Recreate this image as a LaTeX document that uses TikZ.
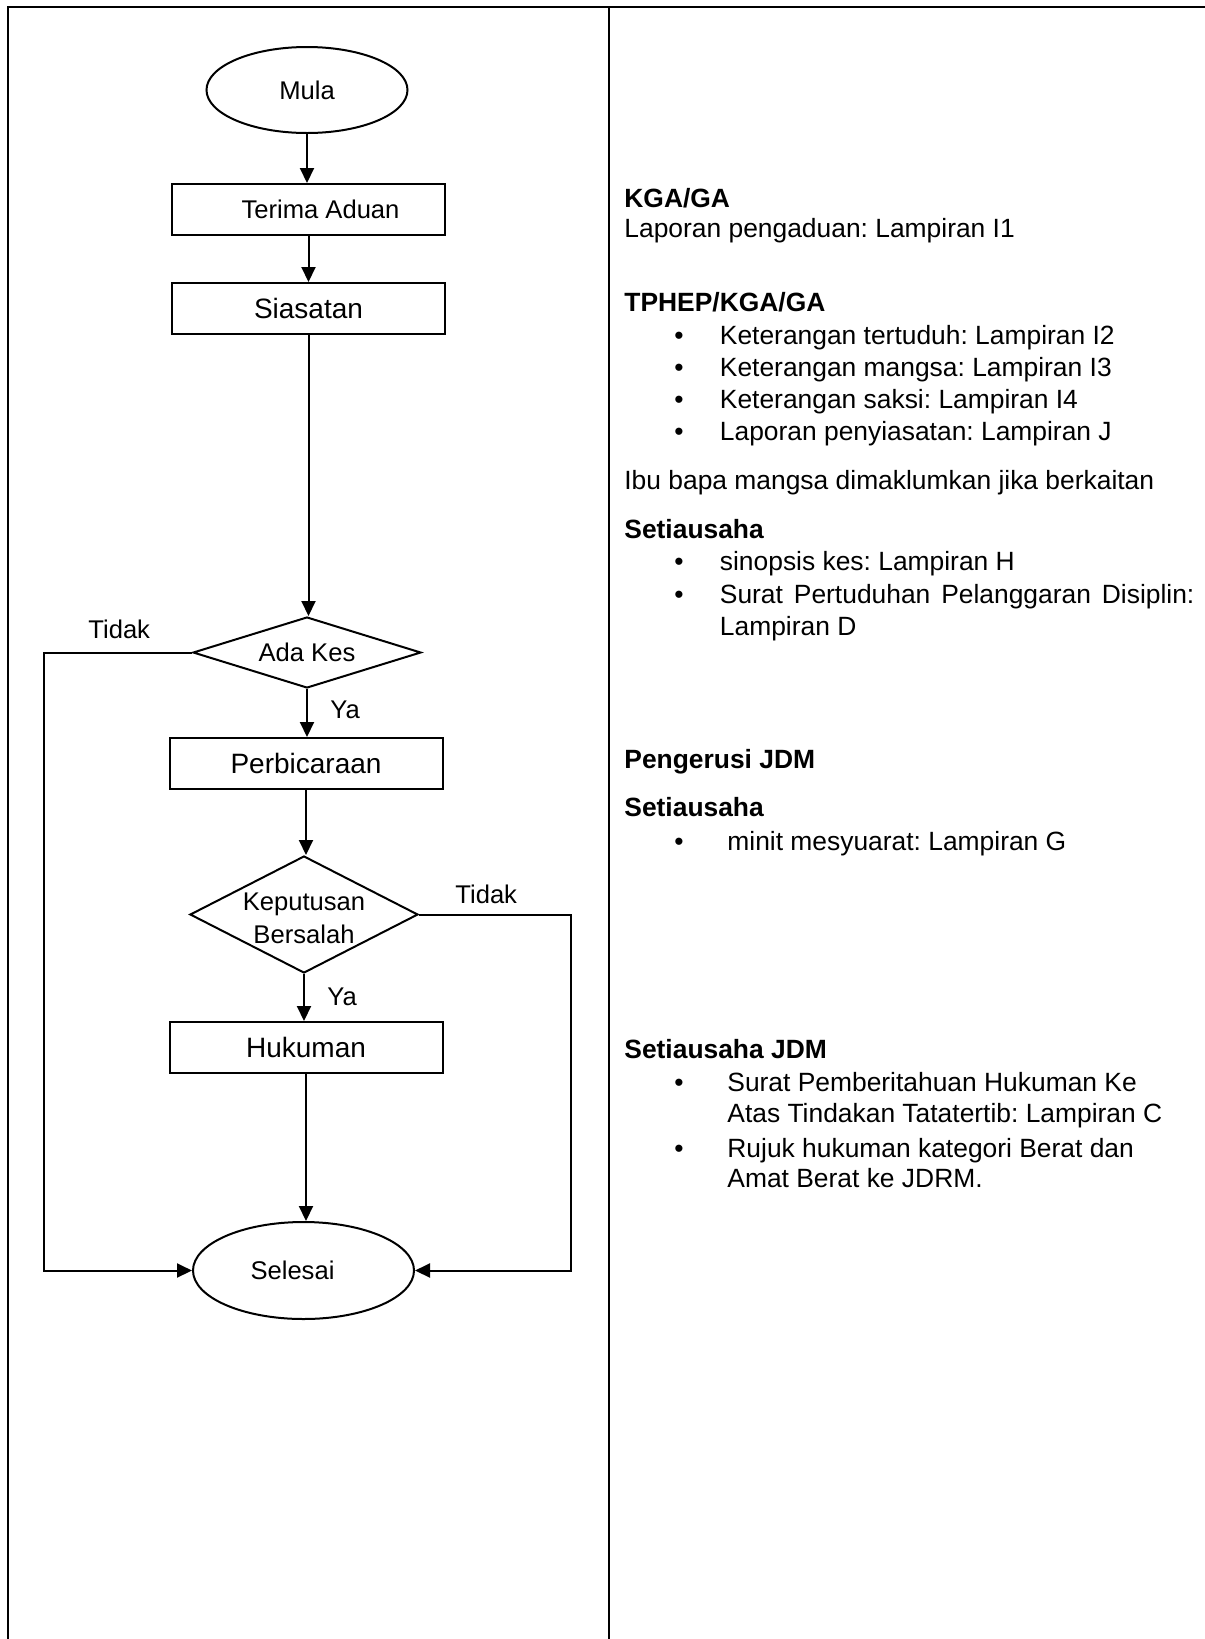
\documentclass[tikz,border=0pt]{standalone}
\usepackage{fontspec}
\setmainfont{Liberation Sans}
\usetikzlibrary{shapes.geometric,arrows.meta}
\newcommand\myrfont{\fontsize{13.2}{15.5}\selectfont}
\newcommand\mysmallf{\fontsize{12.8}{16.5}\selectfont}
\newcommand\mylargef{\fontsize{14}{17}\selectfont}
\frenchspacing
\begin{document}
\begin{tikzpicture}[x=0.5pt,y=-0.5pt,
  border/.style={line width=1.25pt},
  flowline/.style={line width=1pt},
  arr/.style={flowline,-{Triangle[length=7.5pt,width=7pt]}},
  procbox/.style={draw,line width=1pt,rectangle,minimum width=136.5pt,minimum height=25.5pt,inner sep=0pt},
  term/.style={draw,line width=1pt,ellipse,inner sep=0pt,font=\mysmallf},
  decide/.style={draw,line width=1pt,diamond,inner sep=0pt,minimum width=114pt},
  lbl/.style={inner sep=0pt,anchor=base west,font=\mysmallf},
  rt/.style={inner sep=0pt,anchor=base west,font=\myrfont},
  rth/.style={inner sep=0pt,anchor=base west,font=\myrfont\bfseries},
  bul/.style={inner sep=0pt,anchor=base,font=\myrfont}]
\useasboundingbox (0,0) rectangle (1205,1639);
% frame
\draw[border] (8,1639) -- (8,7) -- (1205,7);
\draw[border] (609,7) -- (609,1639);
% flowchart nodes
\node[term,minimum width=100.5pt,minimum height=43pt] (mula) at (307,90) {Mula};
\node[procbox,font=\mysmallf] (terima) at (308.5,209.5) {\hspace*{12pt}Terima Aduan};
\node[procbox,font=\mylargef] (sias) at (308.5,308.5) {Siasatan};
\node[decide,minimum height=35.5pt,label={[font=\mysmallf]center:Ada Kes}] (ada) at (307,652.5) {};
\node[procbox,font=\mylargef] (perb) at (306,763.5) {Perbicaraan};
\node[decide,minimum height=58.5pt,label={[font=\mysmallf,align=center,yshift=-1.75pt]center:{Keputusan\\Bersalah}}] (kep) at (304,914.5) {};
\node[procbox,font=\mylargef] (huk) at (306,1047.5) {Hukuman};
\node[term,minimum width=110.5pt,minimum height=48.5pt] (sel) at (303.5,1270.5) {Selesai\hspace*{11pt}};
\coordinate (L) at (44,0);
\coordinate (R) at (571,0);
% connectors
\draw[arr] (mula.south) -- (mula.south |- terima.north);
\draw[arr] (terima.south) -- (terima.south |- sias.north);
\draw[arr] (sias.south) -- (sias.south |- ada.north);
\draw[arr] (ada.south) -- (ada.south |- perb.north);
\draw[arr] (perb.south) -- (perb.south |- kep.north);
\draw[arr] (kep.south) -- (kep.south |- huk.north);
\draw[arr] (huk.south) -- (huk.south |- sel.north);
\draw[arr] (ada.west) -- (ada.west -| L) |- (sel.west);
\draw[arr] (kep.east) -- (kep.east -| R) |- (sel.east);
% labels
\node[lbl] (tidak1) at (88,638) {Tidak};
\node[lbl] (ya1) at (330,718) {Ya};
\node[lbl] (tidak2) at (455,903) {Tidak};
\node[lbl] (ya2) at (327,1005) {Ya};
% right column
\node[rth] (h1) at (624,207) {KGA/GA};
\node[rt] (t1) at (624,237.6) {Laporan pengaduan: Lampiran I1};
\node[rth] (h2) at (624,311) {TPHEP/KGA/GA};
\node[bul] (b1) at (679,344.4) {•};
\node[rt] (t2) at (719.5,344.4) {Keterangan tertuduh: Lampiran I2};
\node[bul] (b2) at (679,376.5) {•};
\node[rt] (t3) at (719.5,376.5) {Keterangan mangsa: Lampiran I3};
\node[bul] (b3) at (679,408.6) {•};
\node[rt] (t4) at (719.5,408.6) {Keterangan saksi: Lampiran I4};
\node[bul] (b4) at (679,440.7) {•};
\node[rt] (t5) at (719.5,440.7) {Laporan penyiasatan: Lampiran J};
\node[rt] (t6) at (624,489.8) {Ibu bapa mangsa dimaklumkan jika berkaitan};
\node[rth] (h3) at (624,538.8) {Setiausaha};
\node[bul] (b5) at (679,570.3) {•};
\node[rt] (t7) at (719.5,570.3) {sinopsis kes: Lampiran H};
\node[bul] (b6) at (679,603.6) {•};
\node[rt] (t8) at (719.5,603.6) {\makebox[237.25pt][s]{Surat Pertuduhan Pelanggaran Disiplin:}};
\node[rt] (t9) at (719.5,635.1) {Lampiran D};
\node[rth] (h4) at (624,768) {Pengerusi JDM};
\node[rth] (h5) at (624,816.5) {Setiausaha};
\node[bul] (b7) at (679,850) {•};
\node[rt] (t10) at (727,850) {minit mesyuarat: Lampiran G};
\node[rth] (h6) at (624,1058) {Setiausaha JDM};
\node[bul] (b8) at (679,1091.5) {•};
\node[rt] (t11) at (727,1091.5) {Surat Pemberitahuan Hukuman Ke};
\node[rt] (t12) at (727,1122) {Atas Tindakan Tatatertib: Lampiran C};
\node[bul] (b9) at (679,1157) {•};
\node[rt] (t13) at (727,1157) {Rujuk hukuman kategori Berat dan};
\node[rt] (t14) at (727,1187.5) {Amat Berat ke JDRM.};
\end{tikzpicture}
\end{document}
